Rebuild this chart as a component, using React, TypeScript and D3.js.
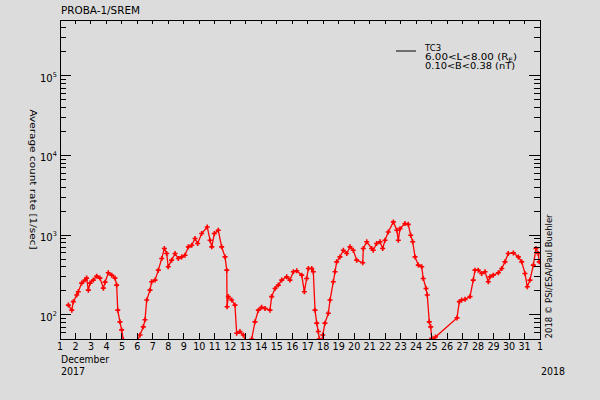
import React from "react";
import * as d3 from "d3";

const titleText = "PROBA-1/SREM";
const yAxisTitle = "Average count rate [1/sec]";
const creditText = "2018 \u00A9 PSI/ESA/Paul Buehler";
const monthLabel = "December";
const startYear = "2017";
const endYear = "2018";

const days = [
  1.54, 1.76, 1.86, 2.08, 2.18, 2.40, 2.61, 2.72, 2.83, 2.94, 3.15, 3.37, 3.58, 3.80, 3.91, 4.12, 4.34, 4.55, 4.66, 4.73,
  4.87, 4.98, 5.09, 5.20, 5.90, 6.02, 6.17, 6.38, 6.49, 6.60, 6.81, 6.92, 7.14, 7.35, 7.57, 7.74, 7.89, 7.99, 8.21, 8.43,
  8.64, 8.86, 9.07, 9.29, 9.51, 9.72, 9.89, 10.15, 10.51, 10.69, 10.80, 10.97, 11.22, 11.44, 11.66, 11.77, 11.79, 11.87, 12.09, 12.30,
  12.41, 12.62, 12.84, 12.95, 13.08, 13.28, 13.38, 13.59, 13.81, 14.02, 14.24, 14.56, 14.67, 14.89, 15.10, 15.32, 15.64, 15.85, 16.07, 16.29,
  16.61, 16.78, 16.93, 17.04, 17.26, 17.36, 17.47, 17.58, 17.68, 17.75, 17.85, 17.97, 18.11, 18.33, 18.44, 18.65, 18.76, 18.87, 19.08, 19.30,
  19.52, 19.73, 19.94, 20.16, 20.55, 20.59, 20.81, 21.13, 21.23, 21.45, 21.67, 21.84, 21.99, 22.20, 22.53, 22.75, 22.85, 22.96, 23.28, 23.49,
  23.65, 23.78, 23.93, 24.14, 24.36, 24.46, 24.64, 24.72, 24.85, 24.94, 25.01, 25.07, 25.25, 26.64, 26.79, 26.94, 27.16, 27.48, 27.69, 27.80,
  28.01, 28.23, 28.45, 28.66, 28.77, 28.98, 29.31, 29.53, 29.74, 29.95, 30.28, 30.60, 30.82, 31.03, 31.18, 31.35, 31.57, 31.74, 31.89, 31.95,
];

const counts = [
  133, 115, 147, 178, 196, 251, 274, 290, 205, 251, 274, 307, 290, 217, 258, 338, 316, 290, 237, 115,
  82, 65, 49, 32, 32, 49, 56, 71, 87, 154, 205, 261, 274, 365, 511, 683, 590, 402, 487, 590,
  511, 535, 562, 715, 750, 910, 787, 1050, 1270, 866, 715, 1050, 1155, 715, 535, 365, 127, 170, 154, 133,
  59, 62, 56, 49, 35, 35, 50, 82, 115, 125, 121, 115, 170, 215, 237, 274, 301, 274, 348, 358,
  316, 196, 287, 383, 383, 348, 115, 79, 62, 50, 40, 56, 79, 105, 154, 261, 348, 464, 535, 649,
  590, 715, 649, 487, 451, 683, 827, 683, 649, 787, 827, 683, 866, 1100, 1470, 1155, 866, 1210, 1400, 1370,
  1000, 827, 535, 422, 402, 287, 215, 178, 82, 71, 51, 47, 53, 92, 147, 154, 157, 170, 274, 365,
  365, 332, 348, 261, 301, 316, 338, 383, 464, 590, 601, 535, 464, 332, 226, 274, 422, 683, 590, 464,
];

const dayTickValues = [
  1, 2, 3, 4, 5, 6, 7, 8, 9, 10, 11, 12, 13, 14, 15, 16, 17, 18, 19, 20, 21, 22, 23, 24, 25, 26, 27, 28, 29, 30, 31, 32,
];
const dayTickLabels = [
  "1", "2", "3", "4", "5", "6", "7", "8", "9", "10", "11", "12", "13", "14", "15", "16", "17", "18", "19", "20",
  "21", "22", "23", "24", "25", "26", "27", "28", "29", "30", "31", "1",
];
const yTickValues = [100, 1000, 10000, 100000];
const yTickExponents = ["2", "3", "4", "5"];
const legendName = "TC3";
const legendL = "6.00<L<8.00 (R";
const legendB = "0.10<B<0.38 (nT)";

const FONT = "DejaVu Sans, sans-serif";

export default function App() {
  const W = 600;
  const H = 400;
  const left = 60, right = 540, top = 20, bottom = 339;
  const x = d3.scaleLinear().domain([1, 32]).range([left, right]);
  const y = d3.scaleLog().domain([50, 5e5]).range([bottom, top]);

  const pts = days.map((d, i) => [x(d), y(counts[i])] as [number, number]);
  const linePath = d3.line()(pts) || "";

  const minor: number[] = [];
  for (let e = 1; e <= 5; e++) {
    for (let m = 2; m <= 9; m++) {
      const v = m * Math.pow(10, e);
      if (v >= 50 && v <= 5e5) minor.push(v);
    }
  }

  return (
    <svg
      width={W}
      height={H}
      style={{ position: "absolute", left: 0, top: 0, background: "#dcdcdc" }}
      fontFamily={FONT}
    >
      <rect x={0} y={0} width={W} height={H} fill="#dcdcdc" />
      <defs>
        <clipPath id="plotclip">
          <rect x={left} y={top} width={right - left} height={bottom - top} />
        </clipPath>
      </defs>

      {/* title */}
      <text x={61} y={14} fontSize={10} textLength={79} lengthAdjust="spacingAndGlyphs" fill="#000">
        {titleText}
      </text>

      {/* data */}
      <g clipPath="url(#plotclip)">
        <path d={linePath} fill="none" stroke="#ff0000" strokeWidth={1.3} />
        {pts.map((p, i) => (
          <path
            key={i}
            d={`M${p[0] - 2.5},${p[1]}H${p[0] + 2.5}M${p[0]},${p[1] - 2.5}V${p[1] + 2.5}`}
            stroke="#ff0000"
            strokeWidth={1.6}
            fill="none"
          />
        ))}
      </g>

      {/* frame */}
      <rect x={left} y={top} width={right - left} height={bottom - top} fill="none" stroke="#000" strokeWidth={1} shapeRendering="crispEdges" />

      {/* x ticks */}
      {dayTickValues.map((d, i) => (
        <g key={"xt" + i}>
          <line x1={x(d)} x2={x(d)} y1={bottom} y2={bottom - 6} stroke="#000" shapeRendering="crispEdges" />
          <line x1={x(d)} x2={x(d)} y1={top} y2={top + 4} stroke="#000" shapeRendering="crispEdges" />
          <text x={x(d)} y={349.5} fontSize={9.6} textAnchor="middle" fill="#000">
            {dayTickLabels[i]}
          </text>
        </g>
      ))}

      {/* y ticks */}
      {yTickValues.map((v, i) => (
        <g key={"yt" + i}>
          <line x1={left} x2={left + 11} y1={y(v)} y2={y(v)} stroke="#000" shapeRendering="crispEdges" />
          <line x1={right} x2={right - 11} y1={y(v)} y2={y(v)} stroke="#000" shapeRendering="crispEdges" />
          <text x={40} y={y(v) + 6} fontSize={10} fill="#000">
            10
            <tspan dy={-5} fontSize={6.5}>
              {yTickExponents[i]}
            </tspan>
          </text>
        </g>
      ))}
      {minor.map((v, i) => (
        <g key={"ym" + i}>
          <line x1={left} x2={left + 6} y1={y(v)} y2={y(v)} stroke="#000" shapeRendering="crispEdges" />
          <line x1={right} x2={right - 6} y1={y(v)} y2={y(v)} stroke="#000" shapeRendering="crispEdges" />
        </g>
      ))}

      {/* y axis title */}
      <text
        transform={`translate(29.5,${(top + bottom) / 2}) rotate(90)`}
        textAnchor="middle"
        fontSize={9.5}
        textLength={140}
        lengthAdjust="spacingAndGlyphs"
        fill="#000"
      >
        {yAxisTitle}
      </text>

      {/* credit */}
      <text
        transform={`translate(552,${(214.5 + 338.3) / 2}) rotate(-90)`}
        textAnchor="middle"
        fontSize={9.5}
        textLength={124}
        lengthAdjust="spacingAndGlyphs"
        fill="#000"
      >
        {creditText}
      </text>

      {/* date labels */}
      <text x={61} y={362.7} fontSize={10} textLength={48} lengthAdjust="spacingAndGlyphs" fill="#000">
        {monthLabel}
      </text>
      <text x={61} y={375} fontSize={10} textLength={24} lengthAdjust="spacingAndGlyphs" fill="#000">
        {startYear}
      </text>
      <text x={541} y={375} fontSize={10} textLength={24} lengthAdjust="spacingAndGlyphs" fill="#000">
        {endYear}
      </text>

      {/* legend */}
      <line x1={396} x2={416} y1={51} y2={51} stroke="#000" strokeWidth={1} />
      <text x={425} y={51} fontSize={8.5} fill="#000">
        {legendName}
      </text>
      <text x={425} y={60} fontSize={8.5} fill="#000" textLength={92} lengthAdjust="spacingAndGlyphs">
        {legendL}
        <tspan fontSize={6} dy={1.5}>E</tspan>
        <tspan dy={-1.5}>)</tspan>
      </text>
      <text x={425} y={69} fontSize={8.5} fill="#000" textLength={90} lengthAdjust="spacingAndGlyphs">
        {legendB}
      </text>
    </svg>
  );
}
